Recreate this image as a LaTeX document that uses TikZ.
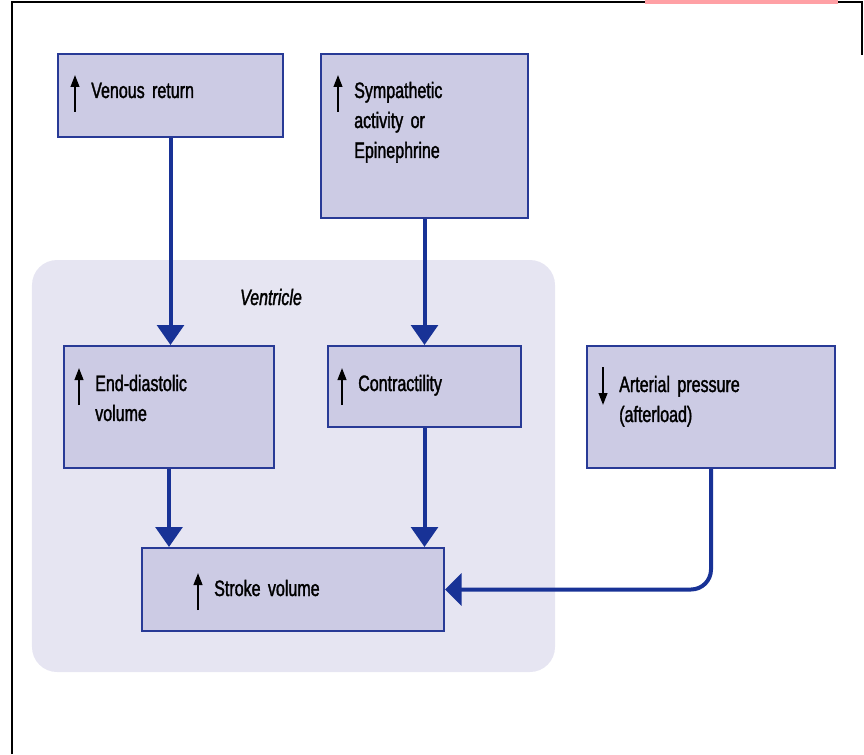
\documentclass[tikz,border=0pt]{standalone}
\usepackage{fontspec}
\setmainfont{Liberation Sans}[FakeStretch=0.72,FakeBold=1.5]
\usetikzlibrary{arrows.meta,positioning}
\definecolor{boxfill}{RGB}{204,203,228}
\definecolor{boxline}{RGB}{40,58,150}
\definecolor{flowblue}{RGB}{24,50,150}
\definecolor{ventfill}{RGB}{230,229,242}
\definecolor{tabpink}{RGB}{255,160,165}
\DeclareRobustCommand\lblfont{\fontsize{19}{25.6}\selectfont\fontdimen2\font=1.8pt\relax}
\tikzstyle{factor}=[draw=boxline,fill=boxfill,line width=0.6mm,rectangle,inner sep=0pt]
\tikzstyle{lbl}=[anchor=base west,inner sep=0pt,text width=70mm,align=left,font=\lblfont]
\tikzstyle{flow}=[draw=flowblue,line width=1.2mm,-{Triangle[width=8mm,length=6mm]}]
\tikzstyle{updir}=[line width=0.6mm,-{Triangle[width=2.6mm,length=3.6mm]}]

\begin{document}
\begin{tikzpicture}[x=0.3mm,y=-0.3mm]
\useasboundingbox (0,0) rectangle (864,754);
% frame and tab
\draw[line width=0.6mm] (12,754) -- (12,2) -- (862,2) -- (862,55);
\fill[tabpink] (645,0) rectangle (838,4);
% ventricle area
\draw (293.5,466) node [fill=ventfill,rounded corners=7.5mm,minimum width=156.9mm,minimum height=123.6mm,inner sep=0pt] (vent) {};
\draw (271,305) node [anchor=base,inner sep=0pt,font=\lblfont\itshape] (ventt) {Ventricle};
% boxes
\draw (170.5,95.5) node [factor,minimum width=67.5mm,minimum height=24.9mm] (vr) {};
\draw (424.5,136) node [factor,minimum width=62.1mm,minimum height=49.2mm] (sym) {};
\draw (169,407) node [factor,minimum width=63mm,minimum height=36.6mm] (edv) {};
\draw (424.5,386.5) node [factor,minimum width=57.9mm,minimum height=24.3mm] (con) {};
\draw (711,407) node [factor,minimum width=74.4mm,minimum height=36.6mm] (ap) {};
\draw (293,589.5) node [factor,minimum width=90.6mm,minimum height=24.9mm] (sv) {};
% texts
\draw (91,98) node [lbl] (vrt) {Venous return};
\draw (354,98) node [lbl] (symt) {Sympathetic\\activity or\\Epinephrine};
\draw (95,391) node [lbl] (edvt) {End-diastolic\\volume};
\draw (358,391) node [lbl] (cont) {Contractility};
\draw (619,392) node [lbl] (apt) {Arterial pressure\\(afterload)};
\draw (214,596) node [lbl] (svt) {Stroke volume};
% small up / down marks
\draw[updir] ([shift={(-16,14)}]vrt.base west) -- ++(0,-37);
\draw[updir] ([shift={(-16,14)}]symt.base west) -- ++(0,-37);
\draw[updir] ([shift={(-16,14)}]edvt.base west) -- ++(0,-37);
\draw[updir] ([shift={(-16,14)}]cont.base west) -- ++(0,-37);
\draw[updir] ([shift={(-16,14)}]svt.base west) -- ++(0,-37);
\draw[updir] ([shift={(-16,-25)}]apt.base west) -- ++(0,38);
% connectors
\draw[flow] (vr.south) -- (vr.south |- edv.north);
\draw[flow] (sym.south) -- (con.north);
\draw[flow] (edv.south) -- (edv.south |- sv.north);
\draw[flow] (con.south) -- (con.south |- sv.north);
\draw[flow,rounded corners=6mm,-{Triangle[width=9.6mm,length=5mm]}] (ap.south) |- (sv.east);
\end{tikzpicture}
\end{document}
